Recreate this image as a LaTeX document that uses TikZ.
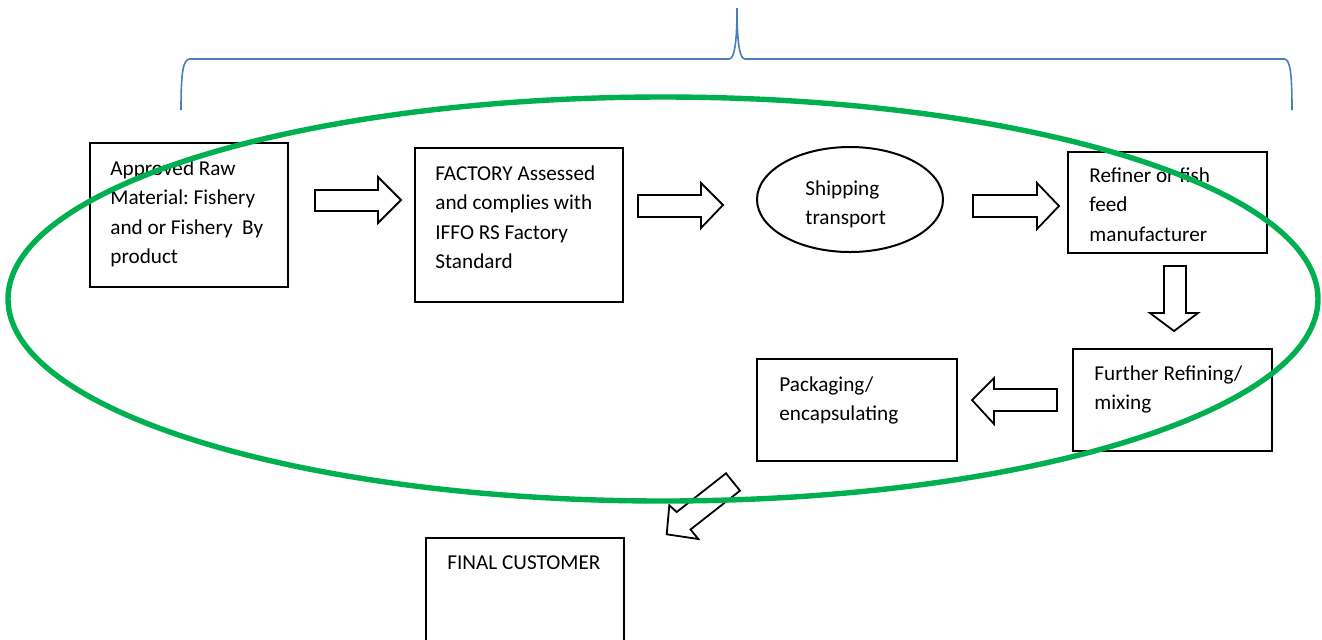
\documentclass[tikz,border=0pt]{standalone}
\usepackage{fontspec}
\setmainfont{Carlito}
\usetikzlibrary{shapes.geometric}
\frenchspacing
\definecolor{bracecol}{HTML}{4A7EBB}
\definecolor{ovalgreen}{HTML}{00B050}
\newcommand{\txtlines}[1]{\fontsize{10.6pt}{14.8pt}\selectfont\frenchspacing\begin{tabular}[t]{@{}l@{}}#1\end{tabular}}
\tikzset{
  box/.style={draw=black, line width=1pt, fill=white, inner sep=0pt, rectangle},
  ovalbox/.style={draw=black, line width=1pt, fill=white, inner sep=0pt, ellipse},
  lbl/.style={inner sep=0pt, anchor=base west},
  blockarrow/.style={draw=black, line width=0.9pt, fill=white, line join=miter},
  bracket/.style={draw=bracecol, line width=0.8pt},
  bigoval/.style={draw=ovalgreen, line width=2.7pt}
}
\begin{document}
\begin{tikzpicture}[x=0.5pt, y=-0.5pt]
\clip (0,0) rectangle (1322,639);
\fill[white] (0,0) rectangle (1322,639);

% brace
\draw[bracket] (181,110) .. controls (181,72) and (183,59) .. (190,59) -- (729,59)
  .. controls (734,59) and (737,45) .. (737,8)
  .. controls (737,45) and (740,59) .. (745,59) -- (1284,59)
  .. controls (1290,59) and (1292,72) .. (1292,110);

% boxes
\node[box, minimum width=99pt, minimum height=72pt] (raw) at (189,215) {};
\node[box, minimum width=104pt, minimum height=77pt] (factory) at (519,225) {};
\node[ovalbox, minimum width=93pt, minimum height=52.5pt] (ship) at (850,199.5) {};
\node[box, minimum width=99.5pt, minimum height=50.5pt] (refiner) at (1167.5,202.5) {};
\node[box, minimum width=99.5pt, minimum height=51pt] (further) at (1172.5,400) {};
\node[box, minimum width=100pt, minimum height=51pt] (pack) at (857,410) {};
\node[box, minimum width=99pt, minimum height=61pt] (final) at (525,599) {};

% texts
\node[lbl] (rawtxt) at (110,175) {\txtlines{Approved Raw\\Material: Fishery\\and or Fishery\ \ By\\product}};
\node[lbl] (factorytxt) at (435,180) {\txtlines{FACTORY Assessed\\and complies with\\IFFO RS Factory\\Standard}};
\node[lbl] (shiptxt) at (805,195) {\txtlines{Shipping\\transport}};
\node[lbl] (refinertxt) at (1089,182) {\txtlines{Refiner or fish\\feed\\manufacturer}};
\node[lbl] (furthertxt) at (1094,380) {\txtlines{Further Refining/\\mixing}};
\node[lbl] (packtxt) at (779,391) {\txtlines{Packaging/\\encapsulating}};
\node[lbl] (finaltxt) at (447,569) {\txtlines{FINAL CUSTOMER}};

% block arrows
\draw[blockarrow] (315,190) -- (378,190) -- (378,177) -- (401,200) -- (378,223) -- (378,211) -- (315,211) -- cycle;
\draw[blockarrow] (638,195) -- (701,195) -- (701,183) -- (723,205) -- (701,228) -- (701,217) -- (638,217) -- cycle;
\draw[blockarrow] (973,195) -- (1037,195) -- (1037,183) -- (1059,206) -- (1037,229) -- (1037,217) -- (973,217) -- cycle;
\draw[blockarrow] (1164,266) -- (1186,266) -- (1186,313) -- (1198,313) -- (1174,331) -- (1150,313) -- (1164,313) -- cycle;
\draw[blockarrow] (1057,389) -- (994,389) -- (994,378) -- (972,400) -- (994,424) -- (994,411) -- (1057,411) -- cycle;
\draw[blockarrow] (726,473.3) -- (740,490.7) -- (690.5,529.5) -- (698.3,539) -- (666.7,534.3) -- (669.3,505.3) -- (676.7,512) -- cycle;

% green oval
\draw[bigoval] (663,299) ellipse [x radius=655, y radius=202];
\end{tikzpicture}
\end{document}
